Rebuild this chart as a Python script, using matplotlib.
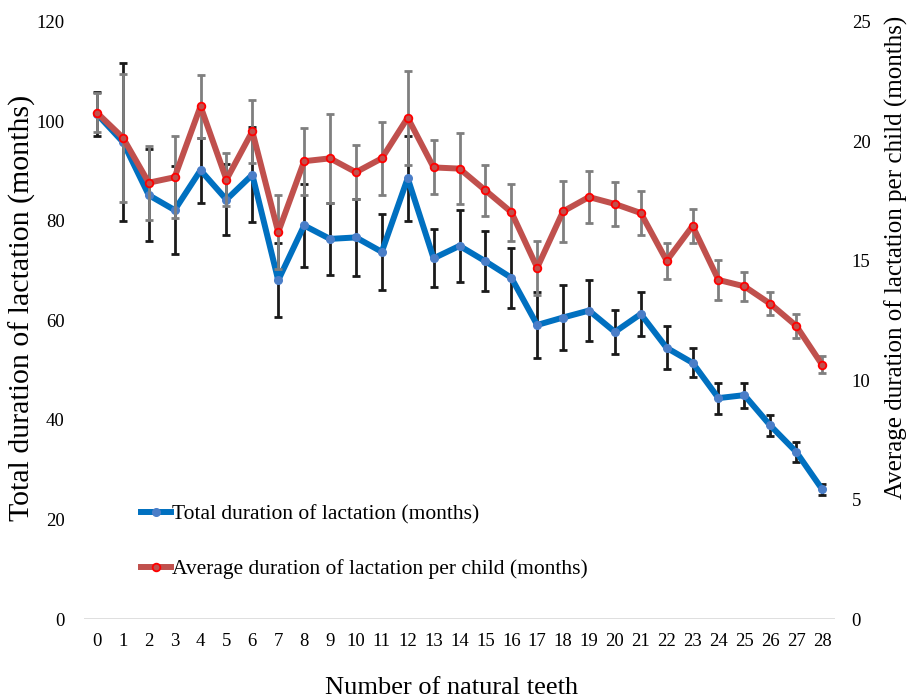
import matplotlib
matplotlib.use("Agg")
import matplotlib.pyplot as plt
import numpy as np

plt.rcParams['font.family'] = ['Liberation Serif', 'DejaVu Serif']

teeth = list(range(0, 29))
total_duration = [101.5, 95.9, 85.2, 82.2, 90.2, 84.3, 89.3, 68.1, 79.1, 76.4,
                  76.7, 73.8, 88.6, 72.5, 75.0, 71.9, 68.6, 59.1, 60.6, 62.0,
                  57.7, 61.3, 54.5, 51.5, 44.4, 45.0, 38.9, 33.6, 26.1]
total_err = [4.4, 15.8, 9.3, 8.9, 6.5, 7.1, 9.6, 7.4, 8.3, 7.3,
             7.8, 7.6, 8.5, 5.8, 7.2, 6.0, 6.0, 6.6, 6.5, 6.2,
             4.5, 4.5, 4.3, 2.9, 3.1, 2.5, 2.1, 2.0, 1.1]
avg_duration = [21.2, 20.16, 18.27, 18.5, 21.47, 18.4, 20.42, 16.2, 19.17, 19.29,
                18.71, 19.29, 20.99, 18.91, 18.86, 17.95, 17.04, 14.71, 17.07, 17.67,
                17.38, 17.0, 15.0, 16.46, 14.2, 13.93, 13.2, 12.28, 10.65]
avg_err = [0.82, 2.68, 1.55, 1.72, 1.31, 1.12, 1.32, 1.56, 1.41, 1.85,
           1.13, 1.53, 1.96, 1.13, 1.5, 1.08, 1.19, 1.14, 1.29, 1.1,
           0.94, 0.92, 0.75, 0.71, 0.84, 0.61, 0.48, 0.51, 0.35]

label_total = "Total duration of lactation (months)"
label_avg = "Average duration of lactation per child (months)"

W, H = 907, 699
fig = plt.figure(figsize=(W/100, H/100), dpi=100)
ax = fig.add_axes([84/W, (H-619)/H, (835-84)/W, (619-22)/H])
ax2 = ax.twinx()

x = np.array(teeth)
ax.errorbar(x, total_duration, yerr=total_err, fmt='none', ecolor='#1a1a1a',
            elinewidth=2.0, capsize=2.8, capthick=2.0, zorder=2)
l1, = ax.plot(x, total_duration, color='#0070C0', lw=4.3, marker='o', ms=5.5,
              mfc='#4A7EC8', mec='#4A7EC8', zorder=3, label=label_total)

ax2.errorbar(x, avg_duration, yerr=avg_err, fmt='none', ecolor='#7f7f7f',
             elinewidth=2.0, capsize=2.8, capthick=2.0, zorder=2)
l2, = ax2.plot(x, avg_duration, color='#C0504D', lw=4.3, marker='o', ms=5.5,
               mfc='#C0504D', mec='#FF0000', mew=1.3, zorder=3, label=label_avg)

ax.set_xlim(-0.5, 28.5)
ax.set_ylim(0, 120)
ax2.set_ylim(0, 25)
ax.set_yticks(range(0, 121, 20))
ax2.set_yticks(range(0, 26, 5))
ax.set_xticks(x)
ax.set_xticklabels([str(t) for t in teeth])

for a in (ax, ax2):
    for s in a.spines.values():
        s.set_visible(False)
    a.tick_params(length=0, labelsize=13.5)
ax.axhline(0, color='#d9d9d9', lw=1.2, zorder=1)
ax.tick_params(axis='y', pad=14)
ax2.tick_params(axis='y', pad=12)
ax.tick_params(axis='x', pad=10)

fig.text(452/W, (H-688)/H, "Number of natural teeth", fontsize=19,
         ha='center', va='center')
fig.text(22/W, (H-308)/H, "Total duration of lactation (months)", fontsize=21.5,
         rotation=90, ha='center', va='center')
fig.text(896/W, (H-257)/H, "Average duration of lactation per child (months)",
         fontsize=18, rotation=90, ha='center', va='center')

fig.legend(handles=[l1, l2], loc='upper left',
           bbox_to_anchor=(141/W, (H-504)/H), frameon=False,
           fontsize=15.5, handlelength=1.4, handletextpad=0.05,
           labelspacing=1.63, borderpad=0, borderaxespad=0)

fig.savefig("out.png", dpi=100)
